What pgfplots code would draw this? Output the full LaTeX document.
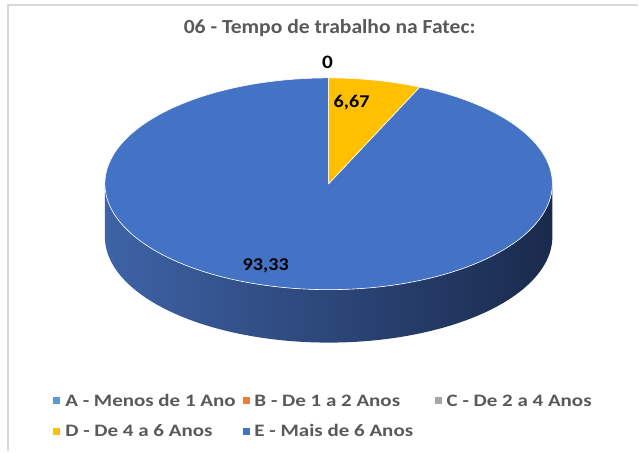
\documentclass[border=0pt]{standalone}
\usepackage{fontspec}
\setmainfont{Carlito}
\newfontfamily\titlefont{Carlito}[FakeStretch=1.08]
\newfontfamily\legfont{Carlito}[FakeStretch=1.2]
\newfontfamily\labfont{Carlito}[FakeStretch=1.12]
\usepackage{pgfplots}
\usepackage{pgfplotstable}
\pgfplotsset{compat=1.18}
\definecolor{cA}{HTML}{5B9BD5}
\definecolor{cB}{HTML}{ED7D31}
\definecolor{cC}{HTML}{A5A5A5}
\definecolor{cD}{HTML}{FFC000}
\definecolor{cE}{HTML}{4472C4}
\definecolor{sideL}{HTML}{3E63A6}
\definecolor{sideM}{HTML}{2A4679}
\definecolor{sideR}{HTML}{1A2A4C}
\definecolor{txtgray}{HTML}{595959}
\definecolor{frame}{HTML}{D9D9D9}

\pgfplotstableread{
cat value
A 0
B 0
C 0
D 6.67
E 93.33
}\piedata

\begin{document}
\begin{tikzpicture}
\pgfplotstablegetelem{3}{value}\of\piedata
\pgfmathsetmacro\valD{\pgfplotsretval}
\pgfmathsetmacro\angD{3.6*\valD}
\def\cx{329}\def\cy{268}\def\ra{224}\def\rb{106}\def\dep{53}
\begin{axis}[
  scale only axis, width=639bp, height=452bp,
  xmin=0, xmax=639, ymin=0, ymax=452,
  hide axis, clip=false,
  legend columns=3,
  legend cell align=left,
  legend style={at={(axis cs:53,57.5)}, anchor=north west,
    draw=none, fill=none, inner sep=0pt, outer sep=0pt,
    row sep=18bp, column sep=0pt,
    nodes={inner sep=0pt, anchor=west, text height=12bp, text depth=1bp,
      font=\legfont\bfseries\fontsize{17.5bp}{19bp}\selectfont, text=txtgray}},
]
\path (axis cs:0,0) rectangle (axis cs:639,452);
\draw[frame, line width=1.5bp] (axis cs:8,0) -- (axis cs:8,447) -- (axis cs:639,447);

% side of the pie (front, belongs to E)
\addplot[forget plot, draw=none, left color=sideL, middle color=sideM, right color=sideR,
  domain=0:360, samples=361, variable=\t]
  ({\cx+\ra*sin((\t<=180)*(90+\t)+(\t>180)*(450-\t))},
   {\cy+\rb*cos((\t<=180)*(90+\t)+(\t>180)*(450-\t))-\dep*(\t<=180)});

% top face slices
\addplot[forget plot, fill=cE, draw=white, line width=0.6bp, line join=round,
  domain=\angD:360, samples=300, variable=\t]
  ({\cx+\ra*sin(\t)},{\cy+\rb*cos(\t)}) -- (axis cs:\cx,\cy) -- cycle;
\addplot[forget plot, fill=cD, draw=white, line width=0.6bp, line join=round,
  domain=0:\angD, samples=40, variable=\t]
  ({\cx+\ra*sin(\t)},{\cy+\rb*cos(\t)}) -- (axis cs:\cx,\cy) -- cycle;

% legend
\addlegendimage{legend image code/.code={\fill[cA] (0bp,-3bp) rectangle (6bp,3bp);}}
\addlegendentry{\makebox[184bp][l]{\hspace{6bp}A - Menos de 1 Ano}}
\addlegendimage{legend image code/.code={\fill[cB] (0bp,-3bp) rectangle (6bp,3bp);}}
\addlegendentry{\makebox[186bp][l]{\hspace{5bp}B - De 1 a 2 Anos}}
\addlegendimage{legend image code/.code={\fill[cC] (0bp,-3bp) rectangle (6bp,3bp);}}
\addlegendentry{\hspace{5bp}C - De 2 a 4 Anos}
\addlegendimage{legend image code/.code={\fill[cD] (0bp,-3bp) rectangle (6bp,3bp);}}
\addlegendentry{\makebox[184bp][l]{\hspace{6bp}D - De 4 a 6 Anos}}
\addlegendimage{legend image code/.code={\fill[cE] (0bp,-3bp) rectangle (6bp,3bp);}}
\addlegendentry{\makebox[186bp][l]{\hspace{5bp}E - Mais de 6 Anos}}

% title and data labels
\node[font=\titlefont\bfseries\fontsize{20bp}{22bp}\selectfont, text=txtgray]
  at (axis cs:330,424) {06 - Tempo de trabalho na Fatec:};
\node[font=\labfont\bfseries\fontsize{19bp}{21bp}\selectfont]
  at (axis cs:328,390) {0};
\node[font=\labfont\bfseries\fontsize{18bp}{20bp}\selectfont]
  at (axis cs:352,349) {6,67};
\node[font=\labfont\bfseries\fontsize{18bp}{20bp}\selectfont]
  at (axis cs:266,186) {93,33};
\end{axis}
\end{tikzpicture}
\end{document}
